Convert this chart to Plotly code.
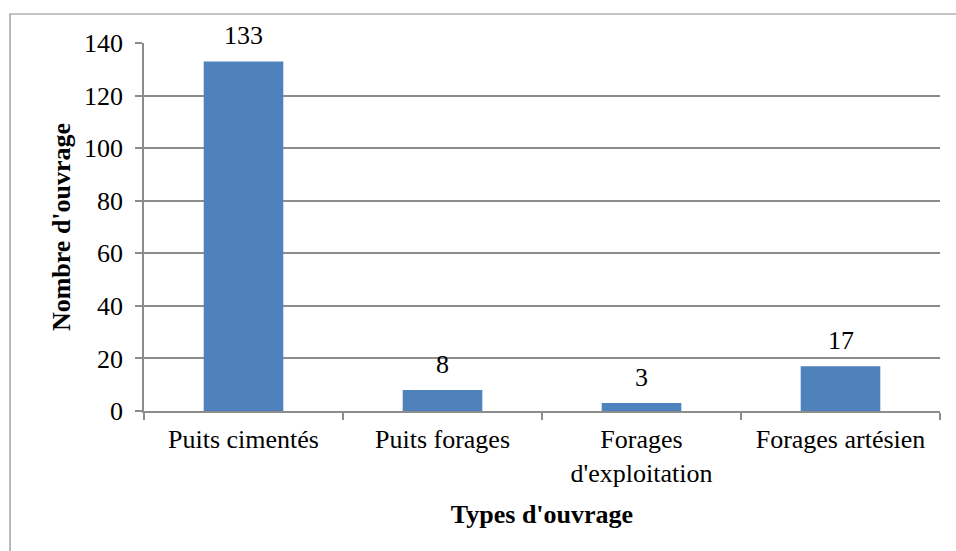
import plotly.graph_objects as go

categories = ["Puits cimentés", "Puits forages", "Forages<br>d'exploitation", "Forages artésien"]
counts = [133, 8, 3, 17]
y_ticks = [0, 20, 40, 60, 80, 100, 120, 140]

font_family = "Liberation Serif, Times New Roman, serif"
axis_gray = "#8c8c8c"
fsize = 26

fig = go.Figure()
fig.add_trace(go.Bar(
    x=categories,
    y=counts,
    marker=dict(color="#4f81bd", line=dict(width=0)),
    width=0.4,
    hoverinfo="x+y",
))

# value labels above each bar
for cat, val in zip(categories, counts):
    fig.add_annotation(
        x=cat, y=val, text=str(val), showarrow=False,
        yanchor="bottom", yshift=9,
        font=dict(family=font_family, size=fsize, color="#000000"),
    )

# outer frame around the chart
fig.add_shape(
    type="rect", xref="paper", yref="paper",
    x0=-0.1683, x1=1.04, y0=-0.42, y1=1.0788,
    line=dict(color="#8a8a8a", width=1.2), fillcolor="rgba(0,0,0,0)",
    layer="below",
)

fig.update_layout(
    width=956, height=551,
    margin=dict(l=144, r=16, t=43, b=140),
    paper_bgcolor="white", plot_bgcolor="white",
    font=dict(family=font_family, size=fsize, color="#000000"),
    showlegend=False,
    bargap=0.6,
    xaxis=dict(
        type="category",
        showline=True, linecolor=axis_gray, linewidth=1.5,
        ticks="outside", ticklen=7, tickcolor=axis_gray, tickwidth=1.5,
        tickson="boundaries",
        ticklabelstandoff=4,
        showgrid=False,
        tickfont=dict(family=font_family, size=fsize, color="#000000"),
        title=dict(text="<b>Types d'ouvrage</b>", standoff=18,
                   font=dict(family=font_family, size=fsize, color="#000000")),
    ),
    yaxis=dict(
        range=[0, 140],
        tickvals=y_ticks,
        showline=True, linecolor=axis_gray, linewidth=1.5,
        ticks="outside", ticklen=7, tickcolor=axis_gray, tickwidth=1.5,
        ticklabelstandoff=7,
        showgrid=True, gridcolor=axis_gray, gridwidth=1.5,
        zeroline=False,
        tickfont=dict(family=font_family, size=fsize, color="#000000"),
        title=dict(text="<b>Nombre d'ouvrage</b>", standoff=6,
                   font=dict(family=font_family, size=fsize, color="#000000")),
    ),
)

fig.write_html("out.html")
